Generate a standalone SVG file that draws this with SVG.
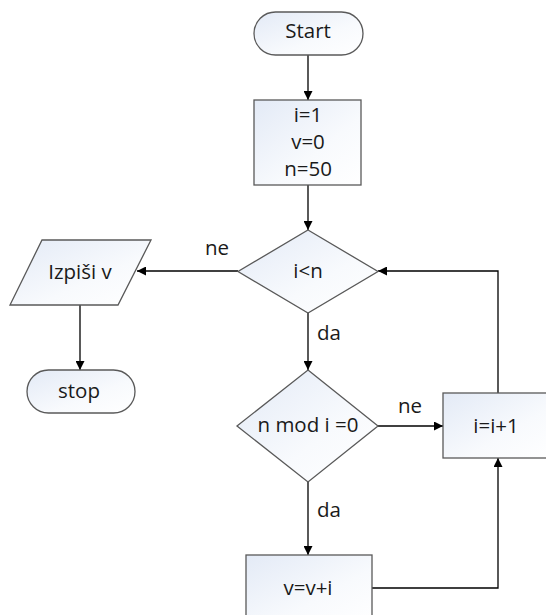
<svg xmlns="http://www.w3.org/2000/svg" width="546" height="615" viewBox="0 0 546 615">
<defs>
<linearGradient id="fillG" x1="0" y1="0" x2="1" y2="1">
<stop offset="0" stop-color="#e3eaf6"/>
<stop offset="0.6" stop-color="#f8fafd"/>
<stop offset="1" stop-color="#ffffff"/>
</linearGradient>
<marker id="arr" viewBox="0 0 10 10" refX="10" refY="5" markerWidth="9" markerHeight="9" markerUnits="userSpaceOnUse" orient="auto">
<path d="M0,0 L10,5 L0,10 Z" fill="#000"/>
</marker>
</defs>
<style>
.shape{fill:url(#fillG);stroke:#595959;stroke-width:1.3}
.conn{fill:none;stroke:#000;stroke-width:1.3;marker-end:url(#arr)}
text{font-family:"Open Sans","Liberation Sans",sans-serif;font-size:20.5px;fill:#1a1a1a;text-anchor:middle}
</style>
<rect width="546" height="615" fill="#fff"/>
<g id="connectors">
<path class="conn" d="M308,55 L308,100"/>
<path class="conn" d="M308,185 L308,230"/>
<path class="conn" d="M238,271 L137,271"/>
<path class="conn" d="M80,305 L80,370"/>
<path class="conn" d="M308,313 L308,370"/>
<path class="conn" d="M378,426 L443,426"/>
<path class="conn" d="M308,482 L308,555"/>
<path class="conn" d="M372,588 L498,588 L498,458"/>
<path class="conn" d="M498,393 L498,271 L378,271"/>
<text x="217" y="255">ne</text>
<text x="329" y="340">da</text>
<text x="410" y="413">ne</text>
<text x="329" y="517">da</text>
</g>
<g id="start">
<rect class="shape" x="254" y="12" width="109" height="43" rx="21.5"/>
<text x="308" y="38">Start</text>
</g>
<g id="init">
<rect class="shape" x="254" y="100" width="107" height="85"/>
<text x="308" y="122">i=1</text>
<text x="308" y="149">v=0</text>
<text x="308" y="176">n=50</text>
</g>
<g id="cond1">
<polygon class="shape" points="308,230 378,271.5 308,313 238,271.5"/>
<text x="308" y="278">i&lt;n</text>
</g>
<g id="output">
<polygon class="shape" points="42,240 151,240 118,305 10,305"/>
<text x="80" y="279">Izpiši v</text>
</g>
<g id="stop">
<rect class="shape" x="27" y="370" width="108" height="43" rx="21.5"/>
<text x="79" y="398">stop</text>
</g>
<g id="cond2">
<polygon class="shape" points="308,370 378,426 308,482 237,426"/>
<text x="308" y="432">n mod i =0</text>
</g>
<g id="incr">
<rect class="shape" x="443" y="393" width="110" height="65"/>
<text x="496" y="433">i=i+1</text>
</g>
<g id="sum">
<rect class="shape" x="246" y="555" width="126" height="70"/>
<text x="308" y="595">v=v+i</text>
</g>
</svg>
